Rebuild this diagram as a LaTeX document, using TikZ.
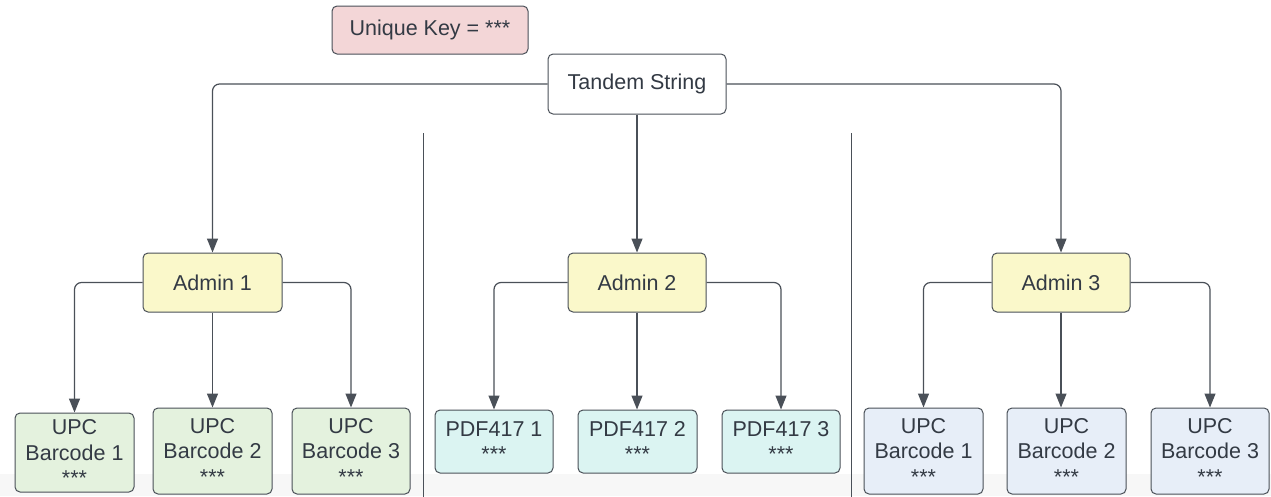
\documentclass[tikz,border=0pt]{standalone}
\usepackage{fontspec}
\setmainfont{Liberation Sans}
\usetikzlibrary{arrows.meta}
\definecolor{linec}{HTML}{4A5058}
\definecolor{txt}{HTML}{333A44}
\definecolor{pinkf}{HTML}{F3D6D7}
\definecolor{yelf}{HTML}{FAF8CA}
\definecolor{grnf}{HTML}{E4F2DE}
\definecolor{cyanf}{HTML}{DBF4F2}
\definecolor{bluef}{HTML}{E7EEF8}
\newcommand\myfs{\fontsize{21.5}{25.5}\selectfont}
\tikzset{
  box/.style={draw=linec, line width=1pt, rounded corners=5pt, inner sep=0pt, align=center, text=txt, font=\myfs},
  conn/.style={draw=linec, line width=1.2pt, rounded corners=7pt, -{Triangle[length=14pt,width=11pt]}},
  divider/.style={draw=linec, line width=1pt}
}
\begin{document}
\begin{tikzpicture}[x=1pt,y=-1pt]
\useasboundingbox (0,0) rectangle (1271,496);
\clip (0,0) rectangle (1271,496);
\fill[white] (0,0) rectangle (1271,496);
\fill[black!3] (0,474) rectangle (1271,496);
% dividers
\draw[divider] (423,133) -- (423,500);
\draw[divider] (851,133) -- (851,500);
% top
\node[box, fill=pinkf, minimum width=196pt, minimum height=48pt] (key) at (430,30) {Unique Key = ***};
\node[box, fill=white, minimum width=178pt, minimum height=60pt] (ts) at (637,84) {Tandem String};
% admins
\node[box, fill=yelf, minimum width=139pt, minimum height=59pt] (a1) at (212.5,282.5) {Admin 1};
\node[box, fill=yelf, minimum width=138pt, minimum height=59pt] (a2) at (637,282.5) {Admin 2};
\node[box, fill=yelf, minimum width=138pt, minimum height=59pt] (a3) at (1061,282.5) {Admin 3};
% left group
\node[box, fill=grnf, minimum width=119pt, minimum height=79pt] (g1) at (74.5,452.5) {UPC\\Barcode 1\\***};
\node[box, fill=grnf, minimum width=119pt, minimum height=86pt] (g2) at (212.5,451) {UPC\\Barcode 2\\***};
\node[box, fill=grnf, minimum width=118pt, minimum height=86pt] (g3) at (351,451) {UPC\\Barcode 3\\***};
% middle group
\node[box, fill=cyanf, minimum width=118pt, minimum height=63pt] (p1) at (494,441.5) {PDF417 1\\***};
\node[box, fill=cyanf, minimum width=119pt, minimum height=63pt] (p2) at (637.5,441.5) {PDF417 2\\***};
\node[box, fill=cyanf, minimum width=118pt, minimum height=63pt] (p3) at (781,441.5) {PDF417 3\\***};
% right group
\node[box, fill=bluef, minimum width=119pt, minimum height=86pt] (b1) at (923.5,451) {UPC\\Barcode 1\\***};
\node[box, fill=bluef, minimum width=119pt, minimum height=86pt] (b2) at (1066.5,451) {UPC\\Barcode 2\\***};
\node[box, fill=bluef, minimum width=118pt, minimum height=86pt] (b3) at (1210,451) {UPC\\Barcode 3\\***};
% connectors
\draw[conn] (ts.west) -| (a1.north);
\draw[conn] (ts.south) -- (a2.north);
\draw[conn] (ts.east) -| (a3.north);
\draw[conn] (a1.west) -| (g1.north);
\draw[conn] (a1.south) -- (a1.south |- g2.north);
\draw[conn] (a1.east) -| (g3.north);
\draw[conn] (a2.west) -| (p1.north);
\draw[conn] (a2.south) -- (a2.south |- p2.north);
\draw[conn] (a2.east) -| (p3.north);
\draw[conn] (a3.west) -| (b1.north);
\draw[conn] (a3.south) -- (a3.south |- b2.north);
\draw[conn] (a3.east) -| (b3.north);
\end{tikzpicture}
\end{document}
